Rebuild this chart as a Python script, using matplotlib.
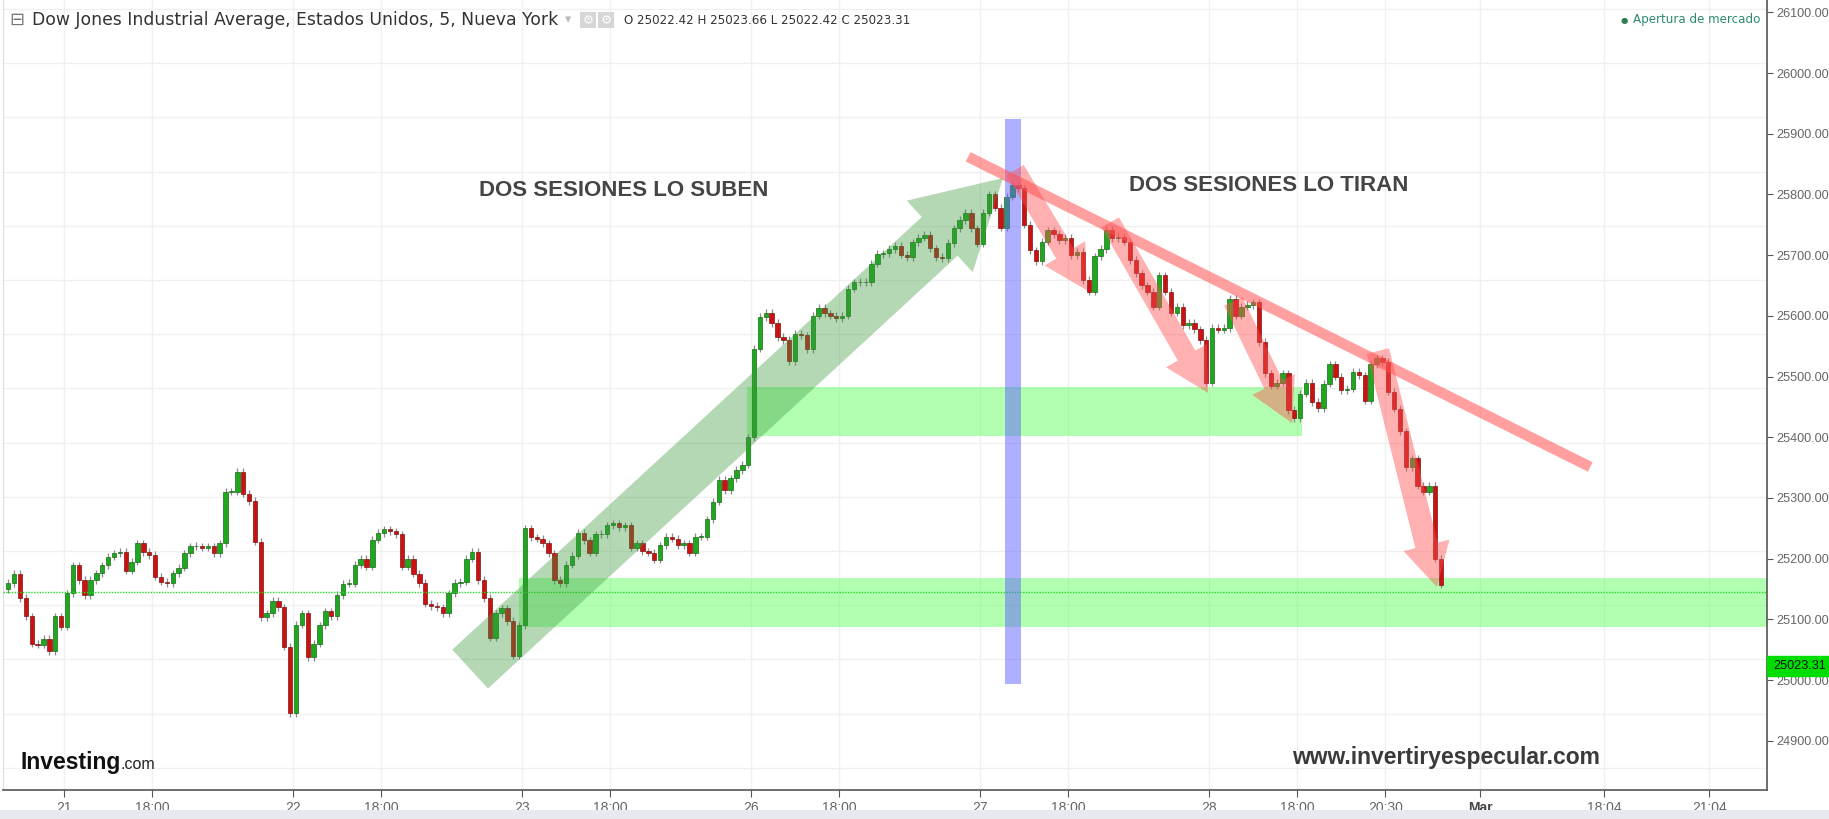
import numpy as np
import matplotlib.pyplot as plt
from matplotlib.patches import Rectangle
from matplotlib.transforms import blended_transform_factory

# 10-minute closes, one list per NY session (78 five-minute bars each)
first_open = 25150
s20 = [25160, 25175, 25135, 25105, 25060, 25058, 25068, 25047, 25105, 25088]
s21 = [25143, 25189, 25165, 25140, 25165, 25176, 25189, 25203, 25209, 25211,
       25180, 25195, 25225, 25211, 25206, 25170, 25162, 25160, 25176, 25185,
       25209, 25220, 25220, 25218, 25220, 25209, 25225, 25310, 25310, 25343,
       25307, 25295, 25228, 25104, 25110, 25130, 25120, 25055, 24945]
s22 = [25091, 25110, 25038, 25060, 25090, 25113, 25105, 25140, 25159, 25159,
       25190, 25200, 25187, 25231, 25242, 25248, 25245, 25240, 25187, 25200,
       25175, 25160, 25126, 25122, 25120, 25110, 25143, 25160, 25162, 25200,
       25211, 25165, 25135, 25070, 25110, 25118, 25097, 25040, 25090]
s23 = [25250, 25235, 25233, 25225, 25209, 25165, 25160, 25190, 25205, 25242,
       25230, 25210, 25240, 25240, 25255, 25258, 25252, 25255, 25218, 25225,
       25212, 25210, 25198, 25222, 25236, 25233, 25222, 25225, 25210, 25236,
       25236, 25265, 25294, 25330, 25313, 25332, 25346, 25355, 25400]
s26 = [25546, 25598, 25605, 25588, 25565, 25560, 25525, 25570, 25568, 25545,
       25600, 25613, 25604, 25600, 25596, 25600, 25645, 25655, 25655, 25655,
       25686, 25702, 25703, 25710, 25715, 25701, 25697, 25721, 25729, 25733,
       25711, 25697, 25695, 25720, 25744, 25758, 25770, 25744, 25719]
s27 = [25770, 25800, 25778, 25745, 25796, 25815, 25810, 25750, 25708, 25690,
       25722, 25741, 25735, 25725, 25728, 25700, 25705, 25659, 25640, 25698,
       25710, 25742, 25728, 25730, 25722, 25692, 25670, 25650, 25640, 25615,
       25667, 25640, 25605, 25615, 25585, 25588, 25578, 25560, 25490]
s28 = [25580, 25577, 25580, 25628, 25600, 25615, 25618, 25622, 25557, 25505,
       25485, 25490, 25505, 25445, 25431, 25472, 25490, 25458, 25448, 25488,
       25520, 25500, 25478, 25480, 25508, 25502, 25460, 25520, 25530, 25524,
       25475, 25447, 25410, 25351, 25365, 25320, 25310, 25320, 25200, 25157]
# (session index relative to Feb 21, first 5-min bar of the list, closes)
sessions = [(-1, 58, s20), (0, 0, s21), (1, 0, s22), (2, 0, s23),
            (3, 0, s26), (4, 0, s27), (5, 0, s28)]

tick_pos = [0, 30, 78, 108, 156, 186, 234, 264, 312, 342, 390, 420, 450, 482.3, 524.5, 560.3]
tick_lab = ["21", "18:00", "22", "18:00", "23", "18:00", "26", "18:00", "27", "18:00",
            "28", "18:00", "20:30", "Mar", "18:04", "21:04"]

# drawings: support zones, vertical marker, trend line, arrows (bar, price)
zone_low = (155, 580, 25087, 25168)
zone_high = (232.6, 421.7, 25402, 25483)
prev_close = 25145
marker = (320.6, 325.8, 24993, 25924)
trend = ([307.9, 519.8], [25862, 25351])
up_arrow = ((138.3, 25018), (319.8, 25827))
down_arrows = [((323.9, 25840), (348.4, 25642)),
               ((356.3, 25754), (389.6, 25473)),
               ((398.2, 25624), (418.3, 25423)),
               ((447.5, 25542), (467.6, 25153))]
last_price = 25023.31

W, H = 1829, 819
fig = plt.figure(figsize=(W / 100, H / 100), dpi=100)
ax = fig.add_axes([3 / W, 29 / H, 1764 / W, 790 / H])
ax.set_xlim(-20.8, 580)
ax.set_ylim(24818.8, 26120.3)

# candles
xs, closes = [], []
for day, first, vals in sessions:
    for k, v in enumerate(vals):
        xs.append(day * 78 + first + 2 * k + 1)
        closes.append(v)
xs = np.array(xs, float)
closes = np.array(closes, float)
opens = np.concatenate([[first_open], closes[:-1]])
up = closes >= opens
body = np.abs(closes - opens)
body = np.where(body < 1.0, 1.0, body)
bottom = np.minimum(opens, closes)
ax.vlines(xs, bottom - 6, bottom + body + 6, color='#8a8a8a', lw=0.9, zorder=2)
ax.bar(xs[up], body[up], bottom=bottom[up], width=1.5, color='#1ea81e',
       edgecolor='#1a6a1a', linewidth=0.5, zorder=3)
ax.bar(xs[~up], body[~up], bottom=bottom[~up], width=1.5, color='#cc1111',
       edgecolor='#7a1515', linewidth=0.5, zorder=3)

# grid
y0, y1 = ax.get_ylim()
for yp in 9 + 54.2 * np.arange(15):
    ax.axhline(y1 - (y1 - y0) * yp / 790, color='#f0f0f0', lw=1, zorder=0)
for xp in tick_pos:
    ax.axvline(xp, color='#f0f0f0', lw=1, zorder=0)

# zones and drawings
for x0, x1, p0, p1 in (zone_low, zone_high):
    ax.add_patch(Rectangle((x0, p0), x1 - x0, p1 - p0, color='#66ff66', alpha=0.5, lw=0, zorder=1))
ax.axhline(prev_close, color='#22dd22', ls=(0, (1, 1)), lw=1, zorder=4)
ax.add_patch(Rectangle((marker[0], marker[2]), marker[1] - marker[0], marker[3] - marker[2],
                       color='#6060ff', alpha=0.5, lw=0, zorder=4))
ax.plot(trend[0], trend[1], color='#ff5050', alpha=0.55, lw=7.6, solid_capstyle='butt', zorder=5)

ax.annotate('', xy=up_arrow[1], xytext=up_arrow[0], zorder=5,
            arrowprops=dict(arrowstyle='simple,tail_width=38,head_width=70,head_length=62',
                            mutation_scale=1, color='#3c9a3c', alpha=0.38, lw=0,
                            shrinkA=0, shrinkB=0))
for i, (a, b) in enumerate(down_arrows):
    tw = 16.5 if i == 3 else 14.5
    ax.annotate('', xy=b, xytext=a, zorder=5,
                arrowprops=dict(arrowstyle=f'simple,tail_width={tw},head_width=34,head_length=31',
                                mutation_scale=1, color='#ff5050', alpha=0.45, lw=0,
                                shrinkA=0, shrinkB=0))

ax.text(190.7, 25807, 'DOS SESIONES LO SUBEN', ha='center', va='center', fontsize=16,
        fontweight='bold', color='#454545', family='Liberation Sans', zorder=6)
ax.text(410.4, 25815, 'DOS SESIONES LO TIRAN', ha='center', va='center', fontsize=16,
        fontweight='bold', color='#454545', family='Liberation Sans', zorder=6)
ax.text(470.7, 24873, 'www.invertiryespecular.com', ha='center', va='center', fontsize=16.5,
        fontweight='bold', color='#3a3a3a', family='Liberation Sans', zorder=6)

# axes styling
ax.spines['top'].set_visible(False)
ax.spines['left'].set_color('#dddddd')
ax.spines['right'].set_color('#555555')
ax.spines['bottom'].set_color('#555555')
ax.spines['right'].set_linewidth(1.2)
ax.spines['bottom'].set_linewidth(1.2)
ax.yaxis.tick_right()
yt = np.arange(24900, 26101, 100)
ax.set_yticks(yt)
ax.set_yticklabels([f'{v:.2f}' for v in yt], family='Liberation Sans', fontsize=9.1, color='#666666')
ax.set_xticks(tick_pos)
ax.set_xticklabels(tick_lab, family='Liberation Sans', fontsize=10, color='#666666')
for lab in ax.get_xticklabels():
    if lab.get_text() == 'Mar':
        lab.set_fontweight('bold')
        lab.set_color('#444444')
ax.tick_params(axis='y', length=4, pad=3, color='#555555')
ax.tick_params(axis='x', length=5, pad=3, color='#555555')

# last price tag
tr = blended_transform_factory(ax.transAxes, ax.transData)
ax.add_patch(Rectangle((1.0, last_price - 16.5), 0.04, 33, transform=tr, color='#00dd00',
                       clip_on=False, zorder=7))
ax.text(1.0035, last_price, f'{last_price:.2f}', transform=tr, va='center', ha='left',
        fontsize=9.1, family='Liberation Sans', color='#111111', zorder=8, clip_on=False)

# header
def fx(px):
    return px / W

def fy(py):
    return 1 - py / H

fig.text(fx(9), fy(20), '\u229f', fontsize=13, color='#777777', va='center')
fig.text(fx(32), fy(20), 'Dow Jones Industrial Average, Estados Unidos, 5, Nueva York',
         fontsize=12.45, color='#333333', va='center')
fig.text(fx(565), fy(20), '\u25be', fontsize=9, color='#bbbbbb', va='center')
for gx in (580, 598):
    fig.patches.append(Rectangle((fx(gx), fy(28)), 16 / W, 16 / H, transform=fig.transFigure,
                                 color='#d6d6d6', lw=0))
    fig.text(fx(gx + 8), fy(20), '\u2699', fontsize=9, color='white', ha='center', va='center')
fig.text(fx(624), fy(20), 'O 25022.42 H 25023.66 L 25022.42 C 25023.31',
         fontsize=8.6, color='#333333', va='center')
fig.text(fx(1624), fy(20), '\u25cf', fontsize=6, color='#2e7d4f', ha='center', va='center')
fig.text(fx(1633), fy(20), 'Apertura de mercado', fontsize=8.6, color='#2b8a6e', va='center')

# logo
fig.text(fx(20), fy(769), 'Investing', fontsize=16.5, fontweight='bold', color='#111111',
         family='Liberation Sans', va='baseline')
fig.text(fx(120), fy(769), '.com', fontsize=11.5, color='#222222',
         family='Liberation Sans', va='baseline')

# bottom toolbar strip
fig.patches.append(Rectangle((0, 0), 1, 9 / H, transform=fig.transFigure, color='#e6e9ee', lw=0))

fig.savefig('out.png', dpi=100)
